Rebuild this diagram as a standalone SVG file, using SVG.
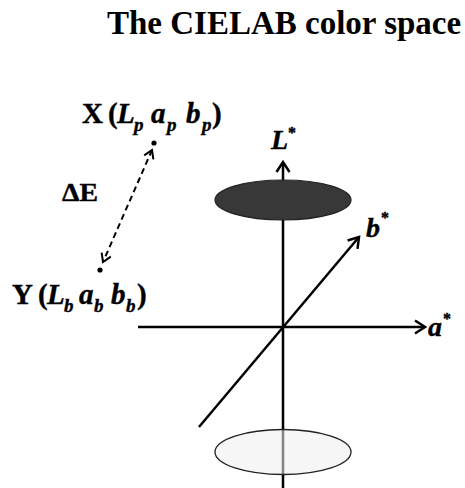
<svg xmlns="http://www.w3.org/2000/svg" width="465" height="488" viewBox="0 0 465 488">
<style>
  text { font-family: "Liberation Serif", "Times New Roman", serif; font-weight: bold; fill: #000; }
  .lbl { stroke: #000; stroke-width: 0.4; }
  .it { font-style: italic; }
  .sub { font-size: 19px; font-style: italic; }
  .sup { font-size: 16px; font-style: normal; }
  .axis { stroke: #000; stroke-width: 2.5; fill: none; }
  .dash { stroke: #000; stroke-width: 2; stroke-dasharray: 6 4; fill: none; }
</style>
<defs>
  <marker id="arr" markerUnits="userSpaceOnUse" viewBox="-12 -8 14 16" refX="0" refY="0" markerWidth="14" markerHeight="16" orient="auto-start-reverse" overflow="visible">
    <path d="M-10,-6.5 L0,0 L-10,6.5" fill="none" stroke="#000" stroke-width="2.5" stroke-dasharray="none"/>
  </marker>
  <marker id="arrs" markerUnits="userSpaceOnUse" viewBox="-10 -7 12 14" refX="0" refY="0" markerWidth="12" markerHeight="14" orient="auto-start-reverse" overflow="visible">
    <path d="M-8,-5 L0,0 L-8,5" fill="none" stroke="#000" stroke-width="2" stroke-dasharray="none"/>
  </marker>
</defs>
<rect width="465" height="488" fill="#fff"/>
<g id="title">
  <text x="107" y="34" font-size="33">The CIELAB color space</text>
</g>
<g id="connectors">
  <line id="axis-L" class="axis" x1="283" y1="488" x2="283" y2="162" marker-end="url(#arr)"/>
  <line id="axis-a" class="axis" x1="138" y1="327" x2="425" y2="327" marker-end="url(#arr)"/>
  <line id="axis-b" class="axis" x1="199" y1="427" x2="359" y2="237" marker-end="url(#arr)"/>
  <line id="deltaE" class="dash" x1="152" y1="150" x2="103" y2="262" marker-start="url(#arrs)" marker-end="url(#arrs)"/>
</g>
<g id="plane-top">
  <ellipse cx="283" cy="200" rx="68" ry="20" fill="#383838" stroke="#222" stroke-width="1.2"/>
</g>
<g id="plane-bottom">
  <ellipse cx="283" cy="452" rx="68" ry="22.5" fill="#efefef" fill-opacity="0.55" stroke="#222" stroke-width="1.3"/>
</g>
<g id="point-X">
  <circle cx="154" cy="143" r="2.6" fill="#000"/>
  <text class="lbl" y="123" font-size="29"><tspan x="82">X</tspan><tspan x="108">(</tspan><tspan class="it" x="117">L</tspan><tspan class="sub" x="134" dy="8">p</tspan><tspan class="it" x="151" dy="-8">a</tspan><tspan class="sub" x="167" dy="8">p</tspan><tspan class="it" x="186" dy="-8">b</tspan><tspan class="sub" x="202" dy="8">p</tspan><tspan x="212" dy="-8">)</tspan></text>
</g>
<g id="point-Y">
  <circle cx="100" cy="270" r="2.6" fill="#000"/>
  <text class="lbl" y="304" font-size="29"><tspan x="12">Y</tspan><tspan x="38">(</tspan><tspan class="it" x="47">L</tspan><tspan class="sub" x="64" dy="8">b</tspan><tspan class="it" x="79" dy="-8">a</tspan><tspan class="sub" x="94" dy="8">b</tspan><tspan class="it" x="111" dy="-8">b</tspan><tspan class="sub" x="126" dy="8">b</tspan><tspan x="137" dy="-8">)</tspan></text>
</g>
<g id="label-deltaE">
  <text class="lbl" x="62" y="201" font-size="25" textLength="36" lengthAdjust="spacingAndGlyphs">ΔE</text>
</g>
<g id="label-L">
  <text class="lbl" y="149" font-size="28"><tspan class="it" x="271">L</tspan><tspan class="sup" x="288" y="138">*</tspan></text>
</g>
<g id="label-b">
  <text class="lbl" y="237" font-size="28"><tspan class="it" x="366">b</tspan><tspan class="sup" x="381" y="223">*</tspan></text>
</g>
<g id="label-a">
  <text class="lbl" y="336" font-size="28"><tspan class="it" x="428">a</tspan><tspan class="sup" x="443" y="324">*</tspan></text>
</g>
</svg>
